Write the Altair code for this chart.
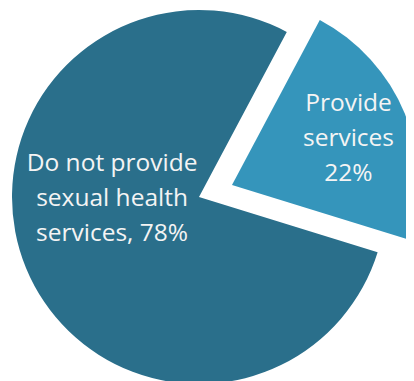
import math
import altair as alt
import pandas as pd

categories = ["Provide services", "Do not provide sexual health services"]
values = [22, 78]
labels = ["Provide\nservices\n22%", "Do not provide\nsexual health\nservices, 78%"]
colors = ["#3595bb", "#2a6f8b"]
order = [0, 1]

df = pd.DataFrame({"category": categories, "value": values, "label": labels, "order": order})

start = math.radians(28)
theta_scale = alt.Scale(domain=[0, 100], range=[start, start + 2 * math.pi])
color = alt.Color("category:N", scale=alt.Scale(domain=categories, range=colors), legend=None)

base = (
    alt.Chart(df)
    .transform_joinaggregate(total="sum(value)")
    .transform_window(cum="sum(value)", sort=[alt.SortField("order")], frame=[None, 0])
    .transform_calculate(
        t0="100 * (datum.cum - datum.value) / datum.total",
        t1="100 * datum.cum / datum.total",
        mid="100 * (datum.cum - datum.value / 2) / datum.total",
    )
)

R = 187
ex, ey = 33, -12
LH = 35

big = base.transform_filter(alt.datum.order == 1).mark_arc(radius=R).encode(
    theta=alt.Theta("t0:Q", scale=theta_scale), theta2="t1:Q", color=color
)
small = base.transform_filter(alt.datum.order == 0).mark_arc(radius=R, xOffset=ex, yOffset=ey).encode(
    theta=alt.Theta("t0:Q", scale=theta_scale), theta2="t1:Q", color=color
)

txt_style = dict(lineBreak="\n", font="Open Sans", fontSize=24.5, lineHeight=LH, color="#f4f4f4",
                 align="center", baseline="middle")

big_txt = base.transform_filter(alt.datum.order == 1).mark_text(
    radius=87, xOffset=-6.5, yOffset=-31.5 - LH, **txt_style
).encode(theta=alt.Theta("mid:Q", scale=theta_scale), text="label:N")

small_txt = base.transform_filter(alt.datum.order == 0).mark_text(
    radius=126, xOffset=ex, yOffset=ey + 2 - LH, **txt_style
).encode(theta=alt.Theta("mid:Q", scale=theta_scale), text="label:N")

chart = (
    alt.layer(big, small, big_txt, small_txt)
    .properties(width=382, height=378, autosize="none",
                padding={"left": 0, "top": 0, "right": 16, "bottom": 0})
    .configure_view(stroke=None)
    .configure(background="white")
)

chart.save("out.html", embed_options={"renderer": "svg", "actions": False})
